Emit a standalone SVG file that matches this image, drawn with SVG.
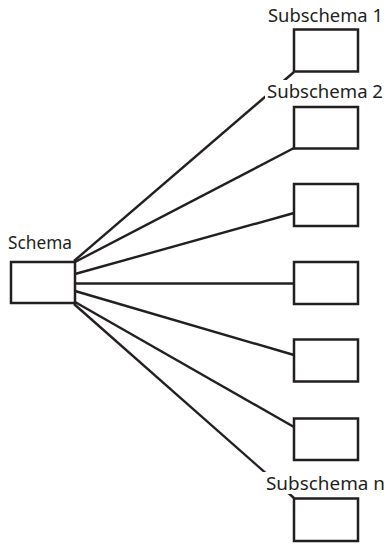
<svg xmlns="http://www.w3.org/2000/svg" width="392" height="545" viewBox="0 0 392 545">
<style>
.box{fill:#fff;stroke:#231f20;stroke-width:2.5}
.ln{stroke:#231f20;stroke-width:2.4;fill:none}
.lbl{font-family:"Noto Sans","Open Sans","DejaVu Sans",sans-serif;font-size:18px;fill:#231f20}
.bg{fill:#fff}
</style>
<rect width="392" height="545" fill="#fff"/>
<g id="connectors">
<line class="ln" x1="74" y1="261" x2="294" y2="72"/>
<line class="ln" x1="75" y1="262" x2="294" y2="148"/>
<line class="ln" x1="75" y1="274" x2="294" y2="213"/>
<line class="ln" x1="75" y1="283.5" x2="294" y2="283.5"/>
<line class="ln" x1="75" y1="291" x2="294" y2="355"/>
<line class="ln" x1="75" y1="302" x2="294" y2="427"/>
<line class="ln" x1="74" y1="304" x2="294" y2="498"/>
</g>
<g id="schema">
<rect class="box" x="11" y="262" width="64" height="41"/>
<text class="lbl" x="8" y="249" textLength="64" lengthAdjust="spacingAndGlyphs">Schema</text>
</g>
<g id="subschema1">
<rect class="box" x="294" y="29.5" width="64" height="42"/>
<text class="lbl" x="268" y="21.5" textLength="115" lengthAdjust="spacingAndGlyphs">Subschema 1</text>
</g>
<g id="subschema2">
<rect class="bg" x="265" y="80" width="122" height="21"/>
<rect class="box" x="294" y="107" width="64" height="41.5"/>
<text class="lbl" x="267" y="98" textLength="116" lengthAdjust="spacingAndGlyphs">Subschema 2</text>
</g>
<g id="subschema3">
<rect class="box" x="294" y="184" width="64" height="42"/>
</g>
<g id="subschema4">
<rect class="box" x="294" y="262" width="64" height="42"/>
</g>
<g id="subschema5">
<rect class="box" x="294" y="339.5" width="64" height="42"/>
</g>
<g id="subschema6">
<rect class="box" x="294" y="418.5" width="64" height="41.5"/>
</g>
<g id="subschemaN">
<rect class="bg" x="263" y="472" width="124" height="22"/>
<rect class="box" x="294" y="498.5" width="64" height="42.5"/>
<text class="lbl" x="266" y="489.5" textLength="119" lengthAdjust="spacingAndGlyphs">Subschema n</text>
</g>
</svg>
